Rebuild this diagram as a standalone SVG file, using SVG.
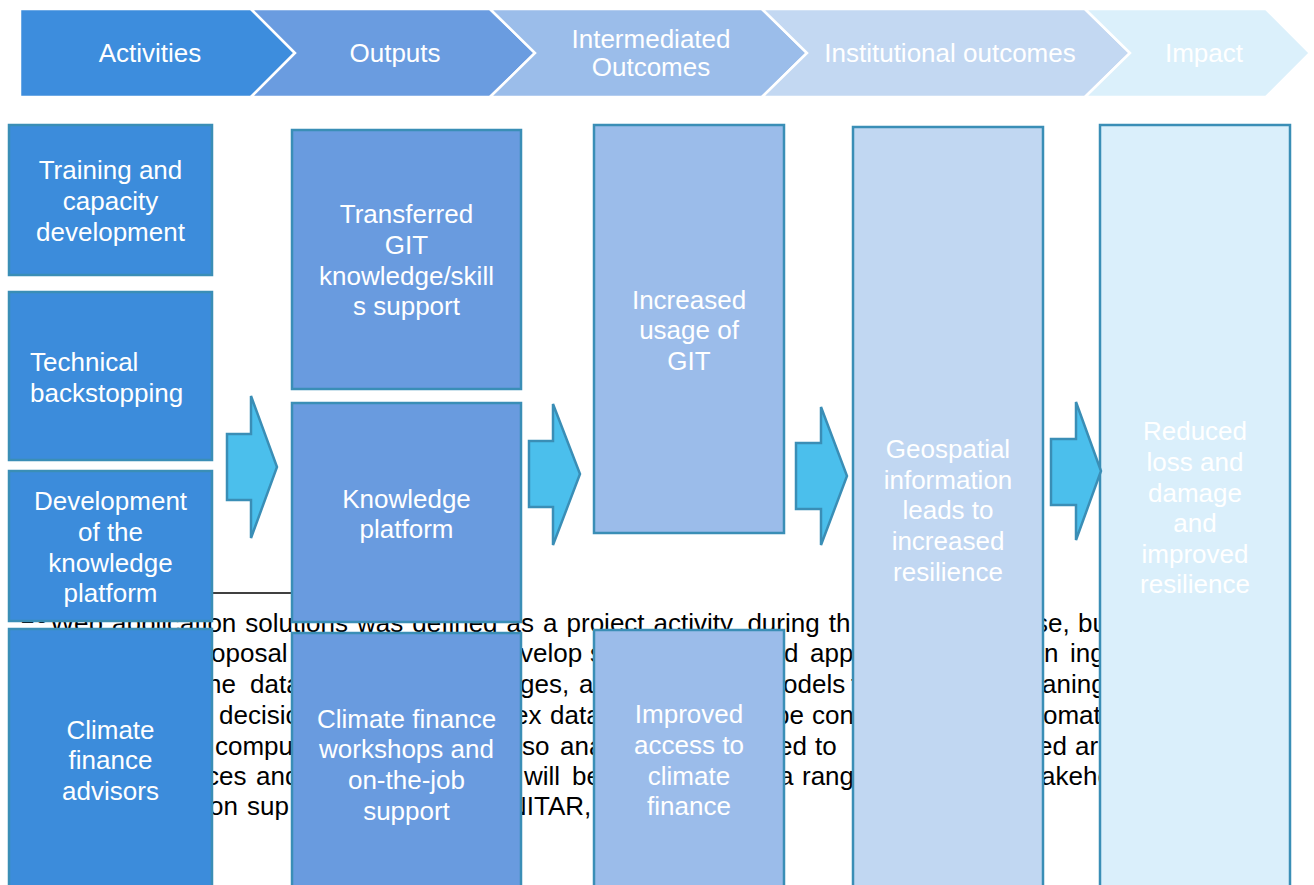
<svg xmlns="http://www.w3.org/2000/svg" width="1314" height="885" viewBox="0 0 1314 885">
<style>
.hd{stroke:#ffffff;stroke-width:2.5;stroke-linejoin:miter}
.ht{font-family:"Liberation Sans",Arial,sans-serif;font-size:26px;fill:#ffffff;text-anchor:middle}
.bx{stroke:#3A8EB6;stroke-width:2.5}
.c1{fill:#3C8CDB}.c2{fill:#699BDF}.c3{fill:#9BBCEA}.c4{fill:#C1D7F2}.c5{fill:#DAEFFB}
.bt{font-family:"Liberation Sans",Arial,sans-serif;font-size:26px;fill:#ffffff;text-anchor:middle}
.bl{text-anchor:start}
.fn{font-family:"Liberation Sans",Arial,sans-serif;font-size:26px;fill:#000000}
.ar{fill:#4BBFEC;stroke:#3A8EB6;stroke-width:2.5;stroke-linejoin:miter}
</style>
<rect width="1314" height="885" fill="#ffffff"/>

<g id="header">
<path class="hd" d="M20,9 L251,9 L295,53 L251,97 L20,97 Z" fill="#3D8DDD"/>
<path class="hd" d="M251,9 L490,9 L535,53 L490,97 L251,97 L295,53 Z" fill="#6A9CE0"/>
<path class="hd" d="M490,9 L762,9 L807,53 L762,97 L490,97 L535,53 Z" fill="#9BBDEA"/>
<path class="hd" d="M762,9 L1085,9 L1130,53 L1085,97 L762,97 L807,53 Z" fill="#C3D8F2"/>
<path class="hd" d="M1085,9 L1266,9 L1310,53 L1266,97 L1085,97 L1130,53 Z" fill="#DBF0FB"/>
<text class="ht" x="150" y="62">Activities</text>
<text class="ht" x="395" y="62">Outputs</text>
<text class="ht" x="651" y="48">Intermediated</text>
<text class="ht" x="651" y="76">Outcomes</text>
<text class="ht" x="950" y="62">Institutional outcomes</text>
<text class="ht" x="1204" y="62">Impact</text>
</g>

<g id="footnote">
<line x1="20" y1="593" x2="300" y2="593" stroke="#000000" stroke-width="1.5"/>
<text class="fn" x="20" y="623" font-size="17">10</text>
<text class="fn" x="50" y="632" word-spacing="1.8">Web application solutions was defined as a project activity, during th</text>
<text class="fn" x="1035" y="632">se,</text><text class="fn" x="1078" y="632">bu</text>
<text class="fn" x="211" y="662">oposal</text>
<text class="fn" x="520" y="662">velop</text><text class="fn" x="590" y="662">s</text>
<text class="fn" x="784" y="662">d</text><text class="fn" x="810" y="662">app</text>
<text class="fn" x="1044" y="662">n</text><text class="fn" x="1070" y="662">ing</text>
<text class="fn" x="207" y="693">he</text><text class="fn" x="250" y="693">data</text>
<text class="fn" x="520" y="693">ges,</text><text class="fn" x="579" y="693">a</text>
<text class="fn" x="783" y="693">odels</text><text class="fn" x="851" y="693">t</text>
<text class="fn" x="1042" y="693">aning</text>
<text class="fn" x="219" y="724">decisio</text>
<text class="fn" x="514" y="724">ex</text><text class="fn" x="550" y="724">data</text>
<text class="fn" x="775" y="724">be</text><text class="fn" x="812" y="724">con</text>
<text class="fn" x="1043" y="724">omat</text>
<text class="fn" x="215" y="755">compu</text>
<text class="fn" x="522" y="755">so</text><text class="fn" x="560" y="755">ana</text>
<text class="fn" x="778" y="755">ed</text><text class="fn" x="815" y="755">to</text>
<text class="fn" x="1038" y="755">ed</text><text class="fn" x="1075" y="755">ar</text>
<text class="fn" x="206" y="785">ces</text><text class="fn" x="256" y="785">and</text>
<text class="fn" x="524" y="785">will</text><text class="fn" x="572" y="785">be</text>
<text class="fn" x="779" y="785">a</text><text class="fn" x="802" y="785">rang</text>
<text class="fn" x="1041" y="785">akeho</text>
<text class="fn" x="209" y="815">on</text><text class="fn" x="247" y="815">sup</text>
<text class="fn" x="508" y="815">NITAR,</text>
</g>

<g id="n-training"><rect class="bx c1" x="9" y="125" width="203" height="150"/>
<text class="bt" x="110.5" y="179">Training and</text><text class="bt" x="110.5" y="210">capacity</text><text class="bt" x="110.5" y="241">development</text></g>
<g id="n-technical"><rect class="bx c1" x="9" y="292" width="203" height="168"/>
<text class="bt bl" x="30" y="371">Technical</text><text class="bt bl" x="30" y="402">backstopping</text></g>
<g id="n-development"><rect class="bx c1" x="9" y="471" width="203" height="150"/>
<text class="bt" x="110.5" y="510">Development</text><text class="bt" x="110.5" y="541">of the</text><text class="bt" x="110.5" y="572">knowledge</text><text class="bt" x="110.5" y="602">platform</text></g>
<g id="n-advisors"><rect class="bx c1" x="9" y="629" width="203" height="270"/>
<text class="bt" x="110.5" y="739">Climate</text><text class="bt" x="110.5" y="769">finance</text><text class="bt" x="110.5" y="800">advisors</text></g>

<g id="n-transferred"><rect class="bx c2" x="292" y="130" width="229" height="259"/>
<text class="bt" x="406.5" y="223">Transferred</text><text class="bt" x="406.5" y="254">GIT</text><text class="bt" x="406.5" y="285">knowledge/skill</text><text class="bt" x="406.5" y="315">s support</text></g>
<g id="n-kplatform"><rect class="bx c2" x="292" y="403" width="229" height="219"/>
<text class="bt" x="406.5" y="508">Knowledge</text><text class="bt" x="406.5" y="538">platform</text></g>
<g id="n-workshops"><rect class="bx c2" x="292" y="633" width="229" height="266"/>
<text class="bt" x="406.5" y="728">Climate finance</text><text class="bt" x="406.5" y="758">workshops and</text><text class="bt" x="406.5" y="789">on-the-job</text><text class="bt" x="406.5" y="820">support</text></g>

<g id="n-usage"><rect class="bx c3" x="594" y="125" width="190" height="408"/>
<text class="bt" x="689" y="309">Increased</text><text class="bt" x="689" y="339">usage of</text><text class="bt" x="689" y="370">GIT</text></g>
<g id="n-access"><rect class="bx c3" x="594" y="630" width="190" height="269"/>
<text class="bt" x="689" y="723">Improved</text><text class="bt" x="689" y="754">access to</text><text class="bt" x="689" y="785">climate</text><text class="bt" x="689" y="815">finance</text></g>

<g id="n-geospatial"><rect class="bx c4" x="853" y="127" width="190" height="772"/>
<text class="bt" x="948" y="458">Geospatial</text><text class="bt" x="948" y="489">information</text><text class="bt" x="948" y="519">leads to</text><text class="bt" x="948" y="550">increased</text><text class="bt" x="948" y="581">resilience</text></g>

<g id="n-reduced"><rect class="bx c5" x="1100" y="125" width="190" height="774"/>
<text class="bt" x="1195" y="440">Reduced</text><text class="bt" x="1195" y="471">loss and</text><text class="bt" x="1195" y="502">damage</text><text class="bt" x="1195" y="532">and</text><text class="bt" x="1195" y="563">improved</text><text class="bt" x="1195" y="593">resilience</text></g>

<g id="connectors">
<path class="ar" d="M227,434 L251,434 L251,396 L277,467 L251,538 L251,500 L227,500 Z"/>
<path class="ar" d="M529,441 L553,441 L553,404 L580,474 L553,545 L553,507 L529,507 Z"/>
<path class="ar" d="M796,443 L821,443 L821,407 L847,476 L821,545 L821,509 L796,509 Z"/>
<path class="ar" d="M1051,439 L1076,439 L1076,402 L1101,471 L1076,540 L1076,505 L1051,505 Z"/>
</g>
</svg>
